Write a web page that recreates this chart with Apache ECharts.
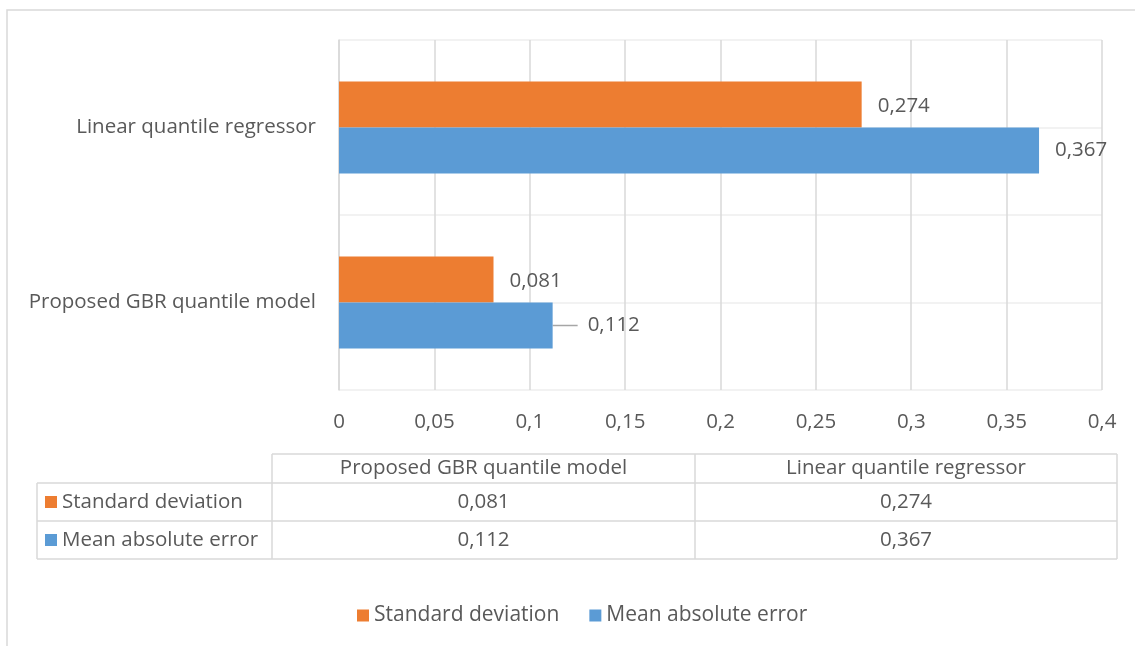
<!DOCTYPE html>
<html>
<head>
<meta charset="utf-8">
<script src="https://cdn.jsdelivr.net/npm/echarts@6/dist/echarts.min.js"></script>
<style>
  html, body { margin: 0; padding: 0; background: #fff; }
  #chart { width: 1135px; height: 646px; }
</style>
</head>
<body>
<div id="chart"></div>
<script>
// Models (bottom to top on the category axis)
const categories = ['Proposed GBR quantile model', 'Linear quantile regressor'];
// Series names and values, one entry per model
const seriesNames = ['Standard deviation', 'Mean absolute error'];
const stdDeviation = [0.081, 0.274];
const meanAbsError = [0.112, 0.367];
const seriesColors = ['#ed7d31', '#5b9bd5'];
// Value axis range and step
const axisMin = 0;
const axisMax = 0.4;
const axisStep = 0.05;

const FONT = 'Open Sans';
const FS = 20.5;
const TEXT = '#595959';
const fmt = v => String(+v.toFixed(3)).replace('.', ',');

const chart = echarts.init(document.getElementById('chart'), null, { renderer: 'canvas' });

// Data table under the chart, built from the same arrays
const tbl = { x0: 37, x1: 272, x2: 695, x3: 1117, y0: 454, y1: 483, y2: 521, y3: 559 };
const lineStyle = { stroke: '#d9d9d9', lineWidth: 1.5 };
const tableEls = [];
function hline(x1, x2, y) { tableEls.push({ type: 'line', shape: { x1, y1: y, x2, y2: y }, style: lineStyle, silent: true }); }
function vline(x, y1, y2) { tableEls.push({ type: 'line', shape: { x1: x, y1, x2: x, y2 }, style: lineStyle, silent: true }); }
function cellText(text, x, y, align) {
  tableEls.push({ type: 'text', x, y, style: { text, fill: TEXT, font: FS + 'px "' + FONT + '"', align: align || 'center', verticalAlign: 'middle' }, silent: true });
}
hline(tbl.x1, tbl.x3, tbl.y0);
hline(tbl.x0, tbl.x3, tbl.y1);
hline(tbl.x0, tbl.x3, tbl.y2);
hline(tbl.x0, tbl.x3, tbl.y3);
vline(tbl.x0, tbl.y1, tbl.y3);
vline(tbl.x1, tbl.y0, tbl.y3);
vline(tbl.x2, tbl.y0, tbl.y3);
vline(tbl.x3, tbl.y0, tbl.y3);
// header: models left to right in reading order
cellText(categories[0], (tbl.x1 + tbl.x2) / 2, (tbl.y0 + tbl.y1) / 2);
cellText(categories[1], (tbl.x2 + tbl.x3) / 2, (tbl.y0 + tbl.y1) / 2);
const rows = [stdDeviation, meanAbsError];
const rowY = [(tbl.y1 + tbl.y2) / 2, (tbl.y2 + tbl.y3) / 2];
rows.forEach((vals, r) => {
  tableEls.push({ type: 'rect', shape: { x: 45, y: rowY[r] - 6, width: 12, height: 12 }, style: { fill: seriesColors[r] }, silent: true });
  cellText(seriesNames[r], 62, rowY[r], 'left');
  cellText(fmt(vals[0]), (tbl.x1 + tbl.x2) / 2, rowY[r]);
  cellText(fmt(vals[1]), (tbl.x2 + tbl.x3) / 2, rowY[r]);
});

// the short GBR bar's error label sits further out, joined by a leader line
const maeData = meanAbsError.map((v, i) => (i === 0
  ? { value: v, labelLine: { show: true }, label: { padding: [0, 0, 0, 10], backgroundColor: 'rgba(255,255,255,0)' } }
  : v));

const valueLabel = {
  show: true, position: 'right', distance: 16, offset: [0, 2],
  color: TEXT, fontSize: FS, formatter: p => fmt(p.value)
};

const option = {
  animation: false,
  backgroundColor: '#fff',
  textStyle: { fontFamily: FONT },
  color: seriesColors,
  grid: { left: 339, right: 33, top: 40, height: 350, containLabel: false },
  legend: {
    data: seriesNames,
    left: 352, top: 600,
    icon: 'rect', itemWidth: 12, itemHeight: 12, itemGap: 30,
    textStyle: { color: TEXT, fontSize: 21, fontFamily: FONT }
  },
  xAxis: {
    type: 'value', min: axisMin, max: axisMax, interval: axisStep,
    axisLine: { show: false }, axisTick: { show: false },
    axisLabel: { color: TEXT, fontSize: FS, margin: 22, formatter: v => fmt(v) },
    splitLine: { lineStyle: { color: '#d9d9d9', width: 1.5 } }
  },
  yAxis: [{
    type: 'category', data: categories,
    axisLine: { show: true, lineStyle: { color: '#d9d9d9', width: 1.5 } },
    axisTick: { show: false },
    axisLabel: { color: TEXT, fontSize: FS, margin: 23 },
    splitLine: { show: false }
  }, {
    // half-category guide lines
    type: 'value', min: 0, max: categories.length, interval: 0.5, position: 'left',
    axisLine: { show: false }, axisTick: { show: false }, axisLabel: { show: false },
    splitLine: { show: true, lineStyle: { color: '#eeeeee', width: 1.5 } }
  }],
  series: [
    {
      name: seriesNames[0], type: 'bar', data: stdDeviation,
      barWidth: 46, barGap: '0%',
      itemStyle: { color: seriesColors[0] },
      label: valueLabel
    },
    {
      name: seriesNames[1], type: 'bar', data: maeData,
      barWidth: 46, barGap: '0%',
      itemStyle: { color: seriesColors[1] },
      label: valueLabel,
      labelLayout: p => (p.dataIndex === 0 ? { dx: 9 } : {}),
      labelLine: { show: false, lineStyle: { color: '#a6a6a6', width: 1.5 } }
    }
  ],
  graphic: [
    { type: 'rect', shape: { x: 7, y: 10, width: 1200, height: 700 }, style: { fill: null, stroke: '#d9d9d9', lineWidth: 1.5 }, silent: true, z: -1 },
    { type: 'group', children: tableEls }
  ]
};
chart.setOption(option);
</script>
</body>
</html>
